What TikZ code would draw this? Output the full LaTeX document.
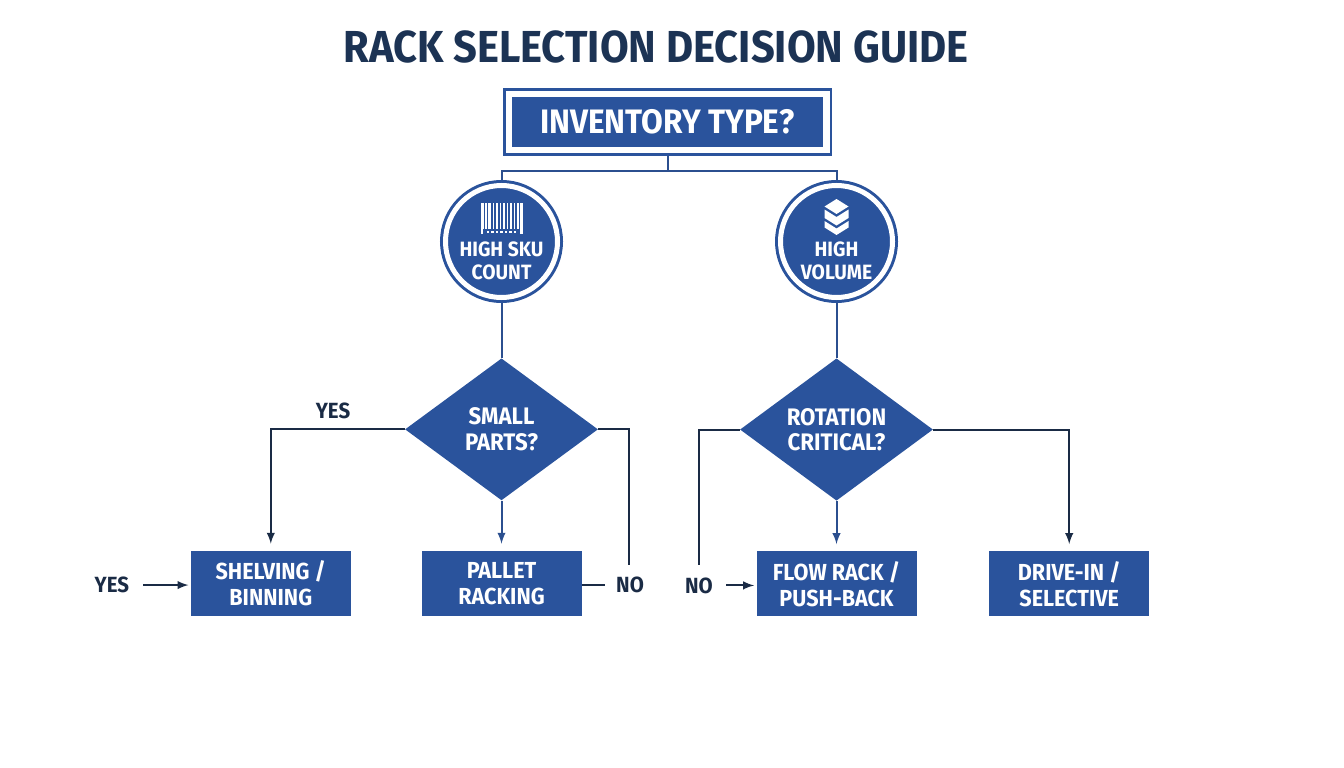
\documentclass[tikz,border=0pt]{standalone}
\usepackage{fontspec}
\setmainfont[FakeStretch=0.93]{Fira Sans}
\usetikzlibrary{positioning, shapes.geometric}

\definecolor{rackblue}{HTML}{2A539C}
\definecolor{rackline}{HTML}{2B4F8F}
\definecolor{rackdark}{HTML}{1A2B45}
\definecolor{racktitle}{HTML}{1C3354}

\begin{document}
\begin{tikzpicture} [
        auto,
        headline/.style={text=racktitle, font=\bfseries\fontsize{25.5}{30}\selectfont},
        rootbox/.style={rectangle, draw=rackblue, fill=rackblue, double=white, double distance=0.13cm, line width=0.05cm, minimum width=6.35cm, minimum height=1.125cm, outer sep=0.115cm, text=white, font=\bfseries\fontsize{19.3}{23}\selectfont},
        crit/.style={circle, draw=rackblue, fill=rackblue, double=white, double distance=0.1cm, line width=0.06cm, minimum size=2.24cm, inner sep=0, outer sep=0.11cm},
        crittext/.style={inner sep=0, text=white, align=center, font=\bfseries\fontsize{11.8}{13}\selectfont},
        choice/.style={diamond, fill=rackblue, minimum width=3.86cm, minimum height=2.84cm, inner sep=0, text=white, align=center, font=\bfseries\fontsize{13.6}{14.5}\selectfont},
        rack/.style={rectangle, fill=rackblue, minimum width=3.2cm, minimum height=1.3cm, inner sep=0, text=white, align=center, font=\bfseries\fontsize{13.2}{14.8}\selectfont},
        tag/.style={inner sep=0, text=rackdark, font=\bfseries\fontsize{12.5}{14}\selectfont},
        line/.style={draw=rackline, line width=0.04cm},
        stem/.style={draw=rackdark, line width=0.04cm},
        flow/.style={draw=rackline, line width=0.04cm, -latex},
        branch/.style={draw=rackdark, line width=0.04cm, -latex}
    ]
        \useasboundingbox (0,0) rectangle (26.88,-15.36);

        % Nodes
        \node[headline] (title) at (13.12,-0.94) {RACK SELECTION DECISION GUIDE};
        \node[rootbox] (inv) at (13.35,-2.44) {INVENTORY TYPE?};

        \node[crit] (sku) at (10.03,-4.83) {};
        \node[crit] (vol) at (16.73,-4.83) {};
        \node[crittext] (skutext) at ([yshift=-0.38cm]sku.center) {HIGH SKU\\COUNT};
        \node[crittext] (voltext) at ([yshift=-0.38cm]vol.center) {HIGH\\VOLUME};

        \node[choice, below=1.1cm of sku] (small) {SMALL\\PARTS?};
        \node[choice, below=1.1cm of vol] (rot) {ROTATION\\CRITICAL?};

        \node[rack, below=1cm of small] (pallet) {PALLET\\RACKING};
        \node[rack, left=1.4cm of pallet] (shelv) {SHELVING /\\BINNING};
        \node[rack, below=1cm of rot] (flowr) {FLOW RACK /\\PUSH-BACK};
        \node[rack, right=1.44cm of flowr] (drive) {DRIVE-IN /\\SELECTIVE};

        \node[tag] (yesa) at (6.66,-8.22) {YES};
        \node[tag, left=1.22cm of shelv, yshift=-0.03cm] (yesb) {YES};
        \node[tag, right=0.68cm of pallet, yshift=-0.03cm] (noa) {NO};
        \node[tag, left=0.86cm of flowr, yshift=-0.03cm] (nob) {NO};

        \coordinate (enda) at (12.58,-11.3);
        \coordinate (endb) at (13.97,-11.3);

        % Paths
        \path [line] (inv.south) -- ++(0,-0.3) -| (sku.north);
        \path [line] (inv.south) -- ++(0,-0.3) -| (vol.north);
        \path [line] (sku) -- (small);
        \path [line] (vol) -- (rot);

        \path [branch, shorten >=0.14cm] (small.west) -| (shelv.north);
        \path [flow, shorten >=0.14cm] (small) -- (pallet);
        \path [stem] (small.east) -| (enda);
        \path [branch, shorten <=0.28cm, shorten >=0.04cm] (yesb) -- (yesb -| shelv.west);
        \path [stem, shorten >=0.22cm] (noa -| pallet.east) -- (noa);

        \path [stem] (rot.west) -| (endb);
        \path [flow, shorten >=0.14cm] (rot) -- (flowr);
        \path [branch, shorten >=0.14cm] (rot.east) -| (drive.north);
        \path [branch, shorten <=0.26cm, shorten >=0.04cm] (nob) -- (nob -| flowr.west);

        % Icons
        \begin{scope}[shift={(sku.center)}]
            \foreach \bx/\bw in {-0.42/0.06, -0.33/0.04, -0.27/0.06, -0.18/0.03, -0.12/0.05, -0.04/0.03, 0.02/0.05, 0.1/0.03, 0.16/0.05, 0.24/0.03, 0.3/0.04, 0.37/0.05}
                \fill[white] (\bx,0.77) rectangle ++(\bw,-0.52);
            \foreach \bx in {-0.3,-0.21,...,0.3}
                \fill[white] (\bx,0.22) rectangle ++(0.05,-0.04);
            \fill[white] (-0.42,0.25) rectangle (-0.37,0.16);
            \fill[white] (0.37,0.25) rectangle (0.42,0.16);
        \end{scope}
        \begin{scope}[shift={(vol.center)}]
            \fill[white] (0,0.85) -- (0.24,0.7) -- (0,0.55) -- (-0.24,0.7) -- cycle;
            \fill[white] (-0.24,0.64) -- (0,0.49) -- (0.24,0.64) -- (0.24,0.47) -- (0,0.32) -- (-0.24,0.47) -- cycle;
            \fill[white] (-0.24,0.41) -- (0,0.26) -- (0.24,0.41) -- (0.24,0.28) -- (0,0.13) -- (-0.24,0.28) -- cycle;
        \end{scope}
    \end{tikzpicture}
\end{document}
